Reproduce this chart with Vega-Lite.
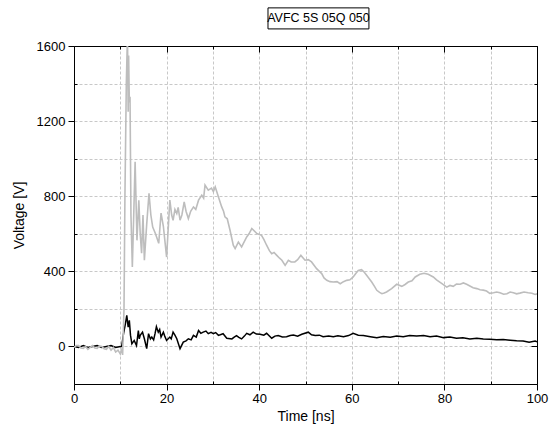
{
  "$schema": "https://vega.github.io/schema/vega-lite/v6.json",
  "width": 463,
  "height": 338,
  "autosize": {"type": "none"},
  "padding": {"left": 74, "top": 46, "right": 17, "bottom": 59},
  "config": {
    "view": {"stroke": null},
    "font": "Liberation Sans",
    "axis": {"labelFont": "Liberation Sans", "titleFont": "Liberation Sans", "labelFontSize": 13, "titleFontSize": 14, "titleFontWeight": "normal", "labelColor": "black", "titleColor": "black", "domainColor": "black", "tickColor": "black"}
  },
  "data": {
    "values": [
      {"t": 0, "v": 0, "s": "k"}, {"t": 1, "v": -5, "s": "k"}, {"t": 2, "v": 5, "s": "k"}, {"t": 3, "v": -5, "s": "k"}, {"t": 4, "v": 0, "s": "k"}, {"t": 5, "v": 5, "s": "k"}, {"t": 6, "v": -5, "s": "k"}, {"t": 7, "v": 0, "s": "k"}, {"t": 8, "v": 5, "s": "k"}, {"t": 9, "v": -5, "s": "k"}, {"t": 10, "v": 0, "s": "k"}, {"t": 10.3, "v": 0, "s": "k"},
      {"t": 10.7, "v": 68, "s": "k"}, {"t": 11.1, "v": 120, "s": "k"}, {"t": 11.4, "v": 165, "s": "k"}, {"t": 11.7, "v": 103, "s": "k"}, {"t": 11.95, "v": 139, "s": "k"}, {"t": 12.2, "v": 60, "s": "k"}, {"t": 12.5, "v": 14, "s": "k"}, {"t": 13.0, "v": 32, "s": "k"}, {"t": 13.5, "v": 5, "s": "k"}, {"t": 13.9, "v": 85, "s": "k"}, {"t": 14.1, "v": 40, "s": "k"}, {"t": 14.3, "v": 59, "s": "k"}, {"t": 14.8, "v": 76, "s": "k"}, {"t": 15.2, "v": 41, "s": "k"}, {"t": 15.7, "v": -12, "s": "k"}, {"t": 16.1, "v": 68, "s": "k"}, {"t": 16.5, "v": 40, "s": "k"}, {"t": 16.8, "v": 50, "s": "k"}, {"t": 17.2, "v": 35, "s": "k"}, {"t": 17.5, "v": 68, "s": "k"}, {"t": 17.8, "v": 105, "s": "k"}, {"t": 18.2, "v": 76, "s": "k"}, {"t": 18.5, "v": 90, "s": "k"}, {"t": 18.8, "v": 50, "s": "k"}, {"t": 19.3, "v": 76, "s": "k"}, {"t": 19.6, "v": 55, "s": "k"}, {"t": 20.0, "v": 32, "s": "k"}, {"t": 20.7, "v": 50, "s": "k"}, {"t": 21.0, "v": 40, "s": "k"}, {"t": 21.4, "v": 76, "s": "k"}, {"t": 21.8, "v": 60, "s": "k"}, {"t": 22.2, "v": 41, "s": "k"}, {"t": 22.9, "v": -12, "s": "k"}, {"t": 23.6, "v": 23, "s": "k"}, {"t": 24.2, "v": 30, "s": "k"}, {"t": 24.7, "v": 41, "s": "k"}, {"t": 25.3, "v": 35, "s": "k"}, {"t": 25.8, "v": 59, "s": "k"}, {"t": 26.4, "v": 50, "s": "k"}, {"t": 26.9, "v": 85, "s": "k"}, {"t": 27.4, "v": 70, "s": "k"}, {"t": 27.9, "v": 76, "s": "k"}, {"t": 28.5, "v": 82, "s": "k"}, {"t": 29.0, "v": 68, "s": "k"}, {"t": 29.6, "v": 75, "s": "k"}, {"t": 30.1, "v": 68, "s": "k"}, {"t": 30.6, "v": 74, "s": "k"}, {"t": 31.2, "v": 59, "s": "k"}, {"t": 32.2, "v": 68, "s": "k"}, {"t": 33.0, "v": 44, "s": "k"}, {"t": 34.1, "v": 40, "s": "k"}, {"t": 34.6, "v": 50, "s": "k"}, {"t": 35.1, "v": 58, "s": "k"}, {"t": 35.6, "v": 48, "s": "k"}, {"t": 36.2, "v": 40, "s": "k"}, {"t": 36.8, "v": 55, "s": "k"}, {"t": 37.3, "v": 70, "s": "k"}, {"t": 38.0, "v": 62, "s": "k"}, {"t": 38.7, "v": 76, "s": "k"}, {"t": 39.4, "v": 66, "s": "k"}, {"t": 40.2, "v": 65, "s": "k"}, {"t": 41.0, "v": 60, "s": "k"}, {"t": 41.6, "v": 70, "s": "k"}, {"t": 42.7, "v": 44, "s": "k"}, {"t": 43.4, "v": 55, "s": "k"}, {"t": 44.1, "v": 58, "s": "k"}, {"t": 45.0, "v": 50, "s": "k"}, {"t": 45.9, "v": 52, "s": "k"}, {"t": 46.7, "v": 58, "s": "k"}, {"t": 47.4, "v": 61, "s": "k"}, {"t": 48.3, "v": 55, "s": "k"}, {"t": 49.2, "v": 65, "s": "k"}, {"t": 50.6, "v": 76, "s": "k"}, {"t": 51.3, "v": 62, "s": "k"}, {"t": 52.1, "v": 58, "s": "k"}, {"t": 53.0, "v": 60, "s": "k"}, {"t": 53.8, "v": 52, "s": "k"}, {"t": 55.0, "v": 56, "s": "k"}, {"t": 56.0, "v": 52, "s": "k"}, {"t": 57.0, "v": 57, "s": "k"}, {"t": 58.2, "v": 52, "s": "k"}, {"t": 59.3, "v": 58, "s": "k"}, {"t": 60.3, "v": 70, "s": "k"}, {"t": 61.4, "v": 60, "s": "k"}, {"t": 62.5, "v": 58, "s": "k"}, {"t": 64.0, "v": 52, "s": "k"}, {"t": 65.4, "v": 47, "s": "k"}, {"t": 66.8, "v": 53, "s": "k"}, {"t": 68.3, "v": 49, "s": "k"}, {"t": 69.7, "v": 55, "s": "k"}, {"t": 71.1, "v": 52, "s": "k"}, {"t": 72.5, "v": 58, "s": "k"}, {"t": 74.0, "v": 56, "s": "k"}, {"t": 75.5, "v": 58, "s": "k"}, {"t": 76.9, "v": 52, "s": "k"}, {"t": 78.3, "v": 55, "s": "k"}, {"t": 79.8, "v": 47, "s": "k"}, {"t": 81.2, "v": 50, "s": "k"}, {"t": 82.6, "v": 44, "s": "k"}, {"t": 84.0, "v": 46, "s": "k"}, {"t": 85.5, "v": 40, "s": "k"}, {"t": 87.0, "v": 43, "s": "k"}, {"t": 88.4, "v": 40, "s": "k"}, {"t": 89.8, "v": 38, "s": "k"}, {"t": 91.3, "v": 35, "s": "k"}, {"t": 92.7, "v": 37, "s": "k"}, {"t": 94.2, "v": 33, "s": "k"}, {"t": 95.6, "v": 30, "s": "k"}, {"t": 97.0, "v": 29, "s": "k"}, {"t": 98.3, "v": 22, "s": "k"}, {"t": 99.6, "v": 29, "s": "k"}, {"t": 100, "v": 25, "s": "k"},
      {"t": 0, "v": -5, "s": "g"}, {"t": 0.5, "v": 5, "s": "g"}, {"t": 1, "v": 5, "s": "g"}, {"t": 1.5, "v": -8, "s": "g"}, {"t": 2, "v": -10, "s": "g"}, {"t": 2.5, "v": 0, "s": "g"}, {"t": 3, "v": -15, "s": "g"}, {"t": 3.5, "v": -5, "s": "g"}, {"t": 4, "v": 5, "s": "g"}, {"t": 4.5, "v": -8, "s": "g"}, {"t": 5, "v": -10, "s": "g"}, {"t": 5.5, "v": 3, "s": "g"}, {"t": 6, "v": 0, "s": "g"}, {"t": 6.5, "v": -12, "s": "g"}, {"t": 7, "v": -15, "s": "g"}, {"t": 7.5, "v": 0, "s": "g"}, {"t": 8, "v": -20, "s": "g"}, {"t": 8.5, "v": -5, "s": "g"}, {"t": 9, "v": -30, "s": "g"}, {"t": 9.5, "v": -20, "s": "g"}, {"t": 10, "v": -40, "s": "g"}, {"t": 10.3, "v": -10, "s": "g"}, {"t": 10.5, "v": -45, "s": "g"},
      {"t": 10.8, "v": 200, "s": "g"}, {"t": 11.0, "v": 800, "s": "g"}, {"t": 11.3, "v": 1400, "s": "g"}, {"t": 11.55, "v": 1660, "s": "g"}, {"t": 11.7, "v": 1250, "s": "g"}, {"t": 11.8, "v": 1550, "s": "g"}, {"t": 11.95, "v": 1300, "s": "g"}, {"t": 12.1, "v": 1330, "s": "g"}, {"t": 12.3, "v": 700, "s": "g"}, {"t": 12.6, "v": 423, "s": "g"}, {"t": 12.9, "v": 700, "s": "g"}, {"t": 13.2, "v": 983, "s": "g"}, {"t": 13.6, "v": 565, "s": "g"}, {"t": 14.0, "v": 779, "s": "g"}, {"t": 14.3, "v": 600, "s": "g"}, {"t": 14.6, "v": 496, "s": "g"}, {"t": 14.9, "v": 700, "s": "g"}, {"t": 15.2, "v": 459, "s": "g"}, {"t": 15.7, "v": 650, "s": "g"}, {"t": 16.2, "v": 816, "s": "g"}, {"t": 16.6, "v": 700, "s": "g"}, {"t": 17.0, "v": 636, "s": "g"}, {"t": 17.6, "v": 600, "s": "g"}, {"t": 18.3, "v": 549, "s": "g"}, {"t": 18.8, "v": 710, "s": "g"}, {"t": 19.3, "v": 640, "s": "g"}, {"t": 20.0, "v": 476, "s": "g"}, {"t": 20.4, "v": 650, "s": "g"}, {"t": 20.7, "v": 779, "s": "g"}, {"t": 21.1, "v": 700, "s": "g"}, {"t": 21.4, "v": 672, "s": "g"}, {"t": 21.8, "v": 730, "s": "g"}, {"t": 22.2, "v": 708, "s": "g"}, {"t": 22.5, "v": 740, "s": "g"}, {"t": 22.9, "v": 672, "s": "g"}, {"t": 23.3, "v": 700, "s": "g"}, {"t": 23.8, "v": 770, "s": "g"}, {"t": 24.2, "v": 720, "s": "g"}, {"t": 24.7, "v": 681, "s": "g"}, {"t": 25.2, "v": 720, "s": "g"}, {"t": 25.8, "v": 743, "s": "g"}, {"t": 26.3, "v": 730, "s": "g"}, {"t": 26.9, "v": 779, "s": "g"}, {"t": 27.6, "v": 805, "s": "g"}, {"t": 28.0, "v": 790, "s": "g"}, {"t": 28.3, "v": 859, "s": "g"}, {"t": 29.0, "v": 832, "s": "g"}, {"t": 29.7, "v": 843, "s": "g"}, {"t": 30.1, "v": 825, "s": "g"}, {"t": 30.5, "v": 850, "s": "g"}, {"t": 31.2, "v": 796, "s": "g"}, {"t": 31.9, "v": 743, "s": "g"}, {"t": 32.3, "v": 720, "s": "g"}, {"t": 32.6, "v": 690, "s": "g"}, {"t": 33.1, "v": 680, "s": "g"}, {"t": 33.7, "v": 619, "s": "g"}, {"t": 34.4, "v": 539, "s": "g"}, {"t": 34.8, "v": 521, "s": "g"}, {"t": 35.5, "v": 556, "s": "g"}, {"t": 36.2, "v": 530, "s": "g"}, {"t": 37.3, "v": 583, "s": "g"}, {"t": 37.8, "v": 600, "s": "g"}, {"t": 38.4, "v": 628, "s": "g"}, {"t": 39.5, "v": 601, "s": "g"}, {"t": 40.5, "v": 592, "s": "g"}, {"t": 41.0, "v": 570, "s": "g"}, {"t": 41.6, "v": 539, "s": "g"}, {"t": 42.2, "v": 510, "s": "g"}, {"t": 42.7, "v": 494, "s": "g"}, {"t": 43.2, "v": 500, "s": "g"}, {"t": 43.8, "v": 485, "s": "g"}, {"t": 44.4, "v": 470, "s": "g"}, {"t": 44.9, "v": 459, "s": "g"}, {"t": 45.6, "v": 432, "s": "g"}, {"t": 46.3, "v": 459, "s": "g"}, {"t": 46.9, "v": 450, "s": "g"}, {"t": 47.7, "v": 450, "s": "g"}, {"t": 48.3, "v": 462, "s": "g"}, {"t": 49.0, "v": 485, "s": "g"}, {"t": 49.9, "v": 459, "s": "g"}, {"t": 50.6, "v": 462, "s": "g"}, {"t": 51.3, "v": 450, "s": "g"}, {"t": 52.4, "v": 414, "s": "g"}, {"t": 53.0, "v": 400, "s": "g"}, {"t": 53.5, "v": 388, "s": "g"}, {"t": 54.0, "v": 365, "s": "g"}, {"t": 54.6, "v": 352, "s": "g"}, {"t": 55.3, "v": 345, "s": "g"}, {"t": 56.0, "v": 343, "s": "g"}, {"t": 56.8, "v": 345, "s": "g"}, {"t": 57.5, "v": 334, "s": "g"}, {"t": 58.2, "v": 345, "s": "g"}, {"t": 58.9, "v": 352, "s": "g"}, {"t": 59.6, "v": 355, "s": "g"}, {"t": 60.3, "v": 370, "s": "g"}, {"t": 60.9, "v": 390, "s": "g"}, {"t": 61.4, "v": 405, "s": "g"}, {"t": 62.1, "v": 409, "s": "g"}, {"t": 62.7, "v": 395, "s": "g"}, {"t": 63.2, "v": 379, "s": "g"}, {"t": 64.3, "v": 343, "s": "g"}, {"t": 64.9, "v": 320, "s": "g"}, {"t": 65.4, "v": 299, "s": "g"}, {"t": 66.0, "v": 288, "s": "g"}, {"t": 66.5, "v": 281, "s": "g"}, {"t": 67.0, "v": 285, "s": "g"}, {"t": 67.5, "v": 290, "s": "g"}, {"t": 68.6, "v": 308, "s": "g"}, {"t": 69.7, "v": 331, "s": "g"}, {"t": 70.8, "v": 320, "s": "g"}, {"t": 71.5, "v": 330, "s": "g"}, {"t": 72.2, "v": 343, "s": "g"}, {"t": 73.0, "v": 350, "s": "g"}, {"t": 73.7, "v": 370, "s": "g"}, {"t": 74.7, "v": 384, "s": "g"}, {"t": 75.6, "v": 390, "s": "g"}, {"t": 76.5, "v": 384, "s": "g"}, {"t": 77.6, "v": 370, "s": "g"}, {"t": 78.3, "v": 355, "s": "g"}, {"t": 79.0, "v": 343, "s": "g"}, {"t": 79.7, "v": 330, "s": "g"}, {"t": 80.5, "v": 316, "s": "g"}, {"t": 81.2, "v": 325, "s": "g"}, {"t": 81.9, "v": 320, "s": "g"}, {"t": 82.6, "v": 332, "s": "g"}, {"t": 83.4, "v": 331, "s": "g"}, {"t": 84.1, "v": 338, "s": "g"}, {"t": 84.8, "v": 331, "s": "g"}, {"t": 85.5, "v": 322, "s": "g"}, {"t": 86.2, "v": 313, "s": "g"}, {"t": 87.0, "v": 308, "s": "g"}, {"t": 87.7, "v": 302, "s": "g"}, {"t": 88.4, "v": 300, "s": "g"}, {"t": 89.1, "v": 295, "s": "g"}, {"t": 89.8, "v": 283, "s": "g"}, {"t": 90.6, "v": 286, "s": "g"}, {"t": 91.3, "v": 290, "s": "g"}, {"t": 92.0, "v": 286, "s": "g"}, {"t": 92.8, "v": 278, "s": "g"}, {"t": 93.5, "v": 281, "s": "g"}, {"t": 94.2, "v": 290, "s": "g"}, {"t": 94.9, "v": 286, "s": "g"}, {"t": 95.6, "v": 280, "s": "g"}, {"t": 96.3, "v": 284, "s": "g"}, {"t": 97.2, "v": 290, "s": "g"}, {"t": 98.1, "v": 286, "s": "g"}, {"t": 98.9, "v": 283, "s": "g"}, {"t": 99.6, "v": 277, "s": "g"}, {"t": 100, "v": 280, "s": "g"}
    ]
  },
  "layer": [
    {
      "transform": [{"filter": "datum.s === 'k'"}],
      "mark": {"type": "line", "color": "black", "strokeWidth": 1.5, "clip": true},
      "encoding": {
        "x": {"field": "t", "type": "quantitative", "scale": {"domain": [0, 100], "nice": false, "zero": false},
          "axis": {"orient": "bottom", "title": "Time [ns]", "values": [0, 10, 20, 30, 40, 50, 60, 70, 80, 90, 100], "format": "d",
            "labelExpr": "datum.value % 20 === 0 ? datum.label : ''",
            "tickSize": {"condition": {"test": "datum.value % 20 === 0", "value": 6}, "value": -3},
            "grid": true, "gridDash": [3, 2], "gridColor": "#c8c8c8", "gridWidth": 1,
            "labelPadding": 2, "titlePadding": 4, "labelFlush": false}},
        "y": {"field": "v", "type": "quantitative", "scale": {"domain": [-200, 1600], "nice": false, "zero": false},
          "axis": {"orient": "left", "title": "Voltage [V]", "values": [-200, 0, 200, 400, 600, 800, 1000, 1200, 1400, 1600], "format": "d",
            "labelExpr": "datum.value >= 0 && datum.value % 400 === 0 ? datum.label : ''",
            "tickSize": {"condition": {"test": "datum.value % 400 === 0", "value": 6}, "value": -3},
            "grid": true, "gridDash": [3, 2], "gridColor": "#c8c8c8", "gridWidth": 1,
            "labelPadding": 3, "titlePadding": 10, "labelFlush": false}}
      }
    },
    {
      "transform": [{"filter": "datum.s === 'g'"}],
      "mark": {"type": "line", "color": "#bdbdbd", "strokeWidth": 1.6, "clip": true},
      "encoding": {
        "x": {"field": "t", "type": "quantitative",
          "axis": {"orient": "top", "title": null, "labels": false, "grid": false, "values": [0, 10, 20, 30, 40, 50, 60, 70, 80, 90, 100],
            "tickSize": {"condition": {"test": "datum.value % 20 === 0", "value": -6}, "value": -3}}},
        "y": {"field": "v", "type": "quantitative",
          "axis": {"orient": "right", "title": null, "labels": false, "grid": false, "values": [-200, 0, 200, 400, 600, 800, 1000, 1200, 1400, 1600],
            "tickSize": {"condition": {"test": "datum.value % 400 === 0", "value": -6}, "value": -3}}}
      }
    },
    {
      "data": {"values": [{"label": "AVFC 5S 05Q 050"}]},
      "mark": {"type": "rect", "fill": "white", "stroke": "black", "strokeWidth": 1, "clip": false},
      "encoding": {
        "x": {"datum": 41.9, "type": "quantitative", "axis": null},
        "x2": {"datum": 63.7},
        "y": {"datum": 1803, "type": "quantitative", "axis": null},
        "y2": {"datum": 1691}
      }
    },
    {
      "data": {"values": [{"label": "AVFC 5S 05Q 050"}]},
      "mark": {"type": "text", "fontSize": 12.5, "font": "Liberation Sans", "fontWeight": "normal", "align": "center", "baseline": "middle", "fill": "black", "clip": false},
      "encoding": {
        "text": {"field": "label", "type": "nominal"},
        "x": {"datum": 52.8, "type": "quantitative", "axis": null},
        "y": {"datum": 1747, "type": "quantitative", "axis": null}
      }
    }
  ],
  "resolve": {"axis": {"x": "independent", "y": "independent"}}
}
